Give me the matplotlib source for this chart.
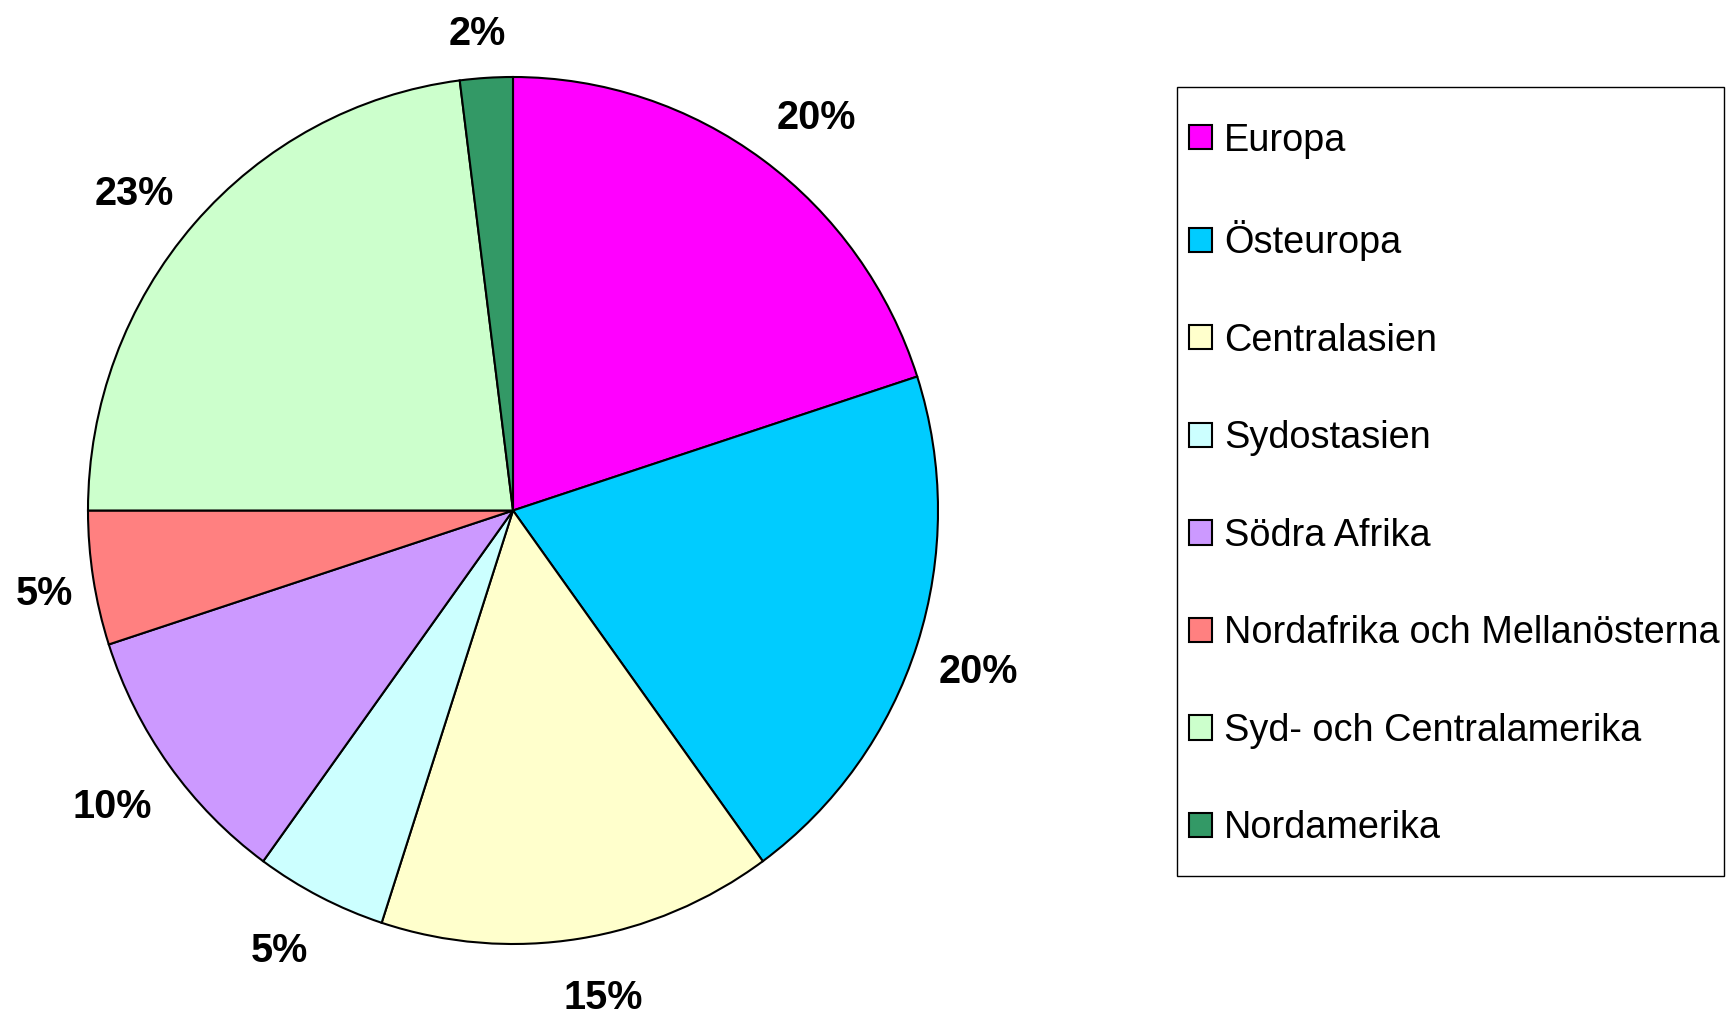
import matplotlib
matplotlib.use("Agg")
import numpy as np
import matplotlib.pyplot as plt
from matplotlib.patches import Rectangle, Patch

categories = ["Europa", "Östeuropa", "Centralasien", "Sydostasien", "Södra Afrika",
              "Nordafrika och Mellanösterna", "Syd- och Centralamerika", "Nordamerika"]
values = [20, 20, 15, 5, 10, 5, 23, 2]
colors = ["#FF00FF", "#00CCFF", "#FFFFCC", "#CCFFFF", "#CC99FF", "#FF8080", "#CCFFCC", "#339966"]

# placement of each percentage label (style): radial distance and angle nudge in degrees
label_dist = [1.161, 1.153, 1.136, 1.146, 1.159, 1.118, 1.158, 1.111]
label_nudge = [-2.0, -0.4, 1.8, -1.6, -0.4, 0.4, 1.7, 0.7]

plt.rcParams['font.family'] = ['Liberation Sans', 'DejaVu Sans']

W, H = 1726, 1013
fig = plt.figure(figsize=(W / 100, H / 100), dpi=100)
fig.patch.set_facecolor("white")

ax = fig.add_axes([88 / W, 69 / H, 850 / W, 867 / H])
wedges, texts, autotexts = ax.pie(
    values, colors=colors, startangle=90, counterclock=False,
    autopct=lambda p: f"{p:.0f}%", pctdistance=1.15,
    wedgeprops=dict(edgecolor="black", linewidth=1.5),
    textprops=dict(fontsize=28.5, fontweight="bold", color="black"),
)
for w, t, d, n in zip(wedges, autotexts, label_dist, label_nudge):
    ang = np.deg2rad((w.theta1 + w.theta2) / 2 + n)
    t.set_position((d * np.cos(ang), d * np.sin(ang)))
    t.set_va("center_baseline")
ax.set_aspect("auto")
ax.set_xlim(-1, 1)
ax.set_ylim(-1, 1)
ax.axis("off")

handles = [Patch(facecolor=c, edgecolor="black", linewidth=1.5) for c in colors]
fig.legend(handles, categories, loc="upper left",
           bbox_to_anchor=(1162 / W, 1 - 96 / H), frameon=False,
           fontsize=27.3, handlelength=0.61, handleheight=0.61,
           handletextpad=0.32, labelspacing=1.623, borderpad=0.2)

fig.patches.append(Rectangle((1177 / W, 1 - 876 / H), 547 / W, (876 - 87) / H,
                             transform=fig.transFigure, facecolor="none",
                             edgecolor="black", linewidth=1.0))

fig.savefig("out.png", dpi=100, facecolor="white")
